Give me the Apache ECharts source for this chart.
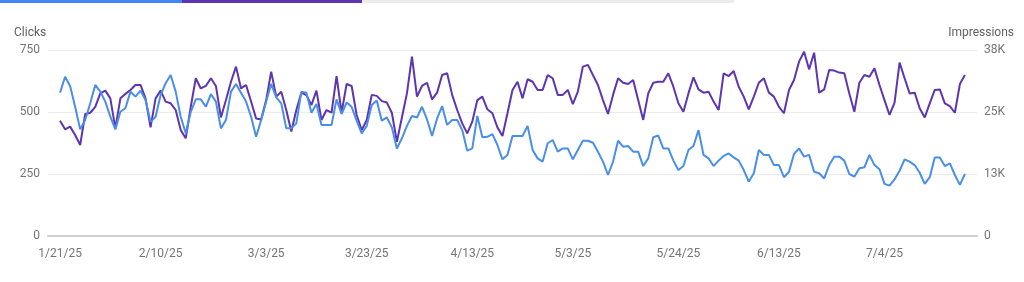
<!DOCTYPE html>
<html>
<head>
<meta charset="utf-8">
<script src="https://cdn.jsdelivr.net/npm/echarts@6/dist/echarts.min.js"></script>
<style>
html,body{margin:0;padding:0;background:#fff;}
#c{width:1024px;height:282px;}
</style>
</head>
<body>
<div id="c"></div>
<script>
const categories = [
'1/21/25','1/22/25','1/23/25','1/24/25','1/25/25','1/26/25','1/27/25','1/28/25','1/29/25','1/30/25','1/31/25',
'2/1/25','2/2/25','2/3/25','2/4/25','2/5/25','2/6/25','2/7/25','2/8/25','2/9/25','2/10/25','2/11/25','2/12/25','2/13/25','2/14/25','2/15/25','2/16/25','2/17/25','2/18/25','2/19/25','2/20/25','2/21/25','2/22/25','2/23/25','2/24/25','2/25/25','2/26/25','2/27/25','2/28/25',
'3/1/25','3/2/25','3/3/25','3/4/25','3/5/25','3/6/25','3/7/25','3/8/25','3/9/25','3/10/25','3/11/25','3/12/25','3/13/25','3/14/25','3/15/25','3/16/25','3/17/25','3/18/25','3/19/25','3/20/25','3/21/25','3/22/25','3/23/25','3/24/25','3/25/25','3/26/25','3/27/25','3/28/25','3/29/25','3/30/25','3/31/25',
'4/1/25','4/2/25','4/3/25','4/4/25','4/5/25','4/6/25','4/7/25','4/8/25','4/9/25','4/10/25','4/11/25','4/12/25','4/13/25','4/14/25','4/15/25','4/16/25','4/17/25','4/18/25','4/19/25','4/20/25','4/21/25','4/22/25','4/23/25','4/24/25','4/25/25','4/26/25','4/27/25','4/28/25','4/29/25','4/30/25',
'5/1/25','5/2/25','5/3/25','5/4/25','5/5/25','5/6/25','5/7/25','5/8/25','5/9/25','5/10/25','5/11/25','5/12/25','5/13/25','5/14/25','5/15/25','5/16/25','5/17/25','5/18/25','5/19/25','5/20/25','5/21/25','5/22/25','5/23/25','5/24/25','5/25/25','5/26/25','5/27/25','5/28/25','5/29/25','5/30/25','5/31/25',
'6/1/25','6/2/25','6/3/25','6/4/25','6/5/25','6/6/25','6/7/25','6/8/25','6/9/25','6/10/25','6/11/25','6/12/25','6/13/25','6/14/25','6/15/25','6/16/25','6/17/25','6/18/25','6/19/25','6/20/25','6/21/25','6/22/25','6/23/25','6/24/25','6/25/25','6/26/25','6/27/25','6/28/25','6/29/25','6/30/25',
'7/1/25','7/2/25','7/3/25','7/4/25','7/5/25','7/6/25','7/7/25','7/8/25','7/9/25','7/10/25','7/11/25','7/12/25','7/13/25','7/14/25','7/15/25','7/16/25','7/17/25','7/18/25','7/19/25','7/20/25'
];

// index positions of the shown date labels
const tickIndices = [0, 20, 41, 61, 82, 102, 123, 143, 164];

const clicks = [
578,642,605,521,430,468,535,609,582,542,481,430,501,515,582,562,586,548,461,481,568,616,649,582,481,414,501,551,551,521,
572,542,434,468,582,613,578,542,481,400,468,542,613,559,535,434,434,454,582,578,497,532,448,448,448,551,492,538,521,465,
414,444,528,546,465,478,438,353,394,444,484,478,521,470,403,474,524,448,468,468,427,344,353,484,398,400,411,367,309,327,
403,403,403,444,347,313,300,374,387,340,353,353,309,347,384,384,376,340,300,246,300,384,360,363,340,340,282,313,398,405,
353,353,304,266,282,347,363,427,327,313,282,304,323,333,317,304,266,219,253,347,327,327,286,286,237,259,331,353,320,327,
259,253,232,286,320,320,304,250,239,273,277,327,286,269,210,203,228,263,309,300,286,255,210,237,317,317,282,293,246,206,250
];

const impressions = [
23250,21500,22050,20350,18350,24600,24850,26050,28750,29300,27750,21700,27750,28650,29450,30450,30450,27750,21900,27750,29300,27100,26750,25400,21350,19700,26050,31800,29750,30250,
31800,30250,23900,27400,31100,34150,29750,30450,27100,23700,23500,27400,33150,28100,29100,25400,21050,25400,28900,28400,26400,29300,23400,25400,24850,32250,24850,30650,30250,24400,
21350,23400,28450,28250,27200,26900,24850,19000,23900,28750,36150,28100,30250,30900,27550,28900,32450,32800,28450,25400,22700,20700,23050,27400,28100,25550,24750,21900,20150,24750,
29450,31100,27750,31600,31100,29450,29450,32450,31800,28450,28450,29450,26600,29100,34150,34500,32450,30450,27400,24600,28450,31800,30900,30650,31450,27400,23400,28750,30900,31100,
31100,32800,30100,26750,25050,28750,32000,29550,28900,29100,27100,25400,32800,32250,33250,30100,28100,25550,28100,30900,31800,28900,28100,26050,24750,29450,31450,35150,37150,33600,
36950,28900,29550,33450,33350,32950,32800,28750,25050,30900,32450,32100,33800,30450,27400,24400,26900,34950,31800,28750,28900,25750,23900,26750,29450,29550,26750,26200,24850,30650,32450
];

const clicksTicks = [0, 250, 500, 750];
const impressionTicks = [0, 12500, 25000, 37500];

const FONT = 'Roboto, "Noto Sans", Arial, sans-serif';
const LABEL_COLOR = '#757575';

const chart = echarts.init(document.getElementById('c'), null, {renderer: 'canvas'});
chart.setOption({
  animation: false,
  backgroundColor: '#ffffff',
  textStyle: {fontFamily: FONT},
  grid: {left: 48, right: 47, top: 50, bottom: 46, containLabel: false},
  graphic: [
    {type: 'rect', left: 0, top: 0, shape: {width: 182, height: 3}, style: {fill: '#4285f4'}},
    {type: 'rect', left: 182, top: 0, shape: {width: 180, height: 3}, style: {fill: '#5e35b1'}},
    {type: 'rect', left: 362, top: 0, shape: {width: 372, height: 3}, style: {fill: '#ececec'}},
    {type: 'text', left: 14, top: 27, style: {text: 'Clicks', fill: '#616161', font: '12px ' + FONT}},
    {type: 'text', right: 10, top: 27, style: {text: 'Impressions', fill: '#616161', font: '12px ' + FONT}}
  ],
  xAxis: {
    type: 'value',
    min: -2.4,
    max: 182.4,
    splitLine: {show: false},
    axisTick: {show: false},
    axisLine: {show: true, lineStyle: {color: '#cfcfcf', width: 2}},
    axisLabel: {
      customValues: tickIndices,
      color: LABEL_COLOR,
      fontSize: 12,
      fontFamily: FONT,
      margin: 12,
      formatter: function (v) { return categories[Math.round(v)] || ''; }
    }
  },
  yAxis: [
    {
      type: 'value', min: 0, max: 750, interval: 250,
      axisLine: {show: false}, axisTick: {show: false},
      splitLine: {show: true, lineStyle: {color: '#ececec', width: 1}},
      axisLabel: {color: LABEL_COLOR, fontSize: 12, fontFamily: FONT, margin: 8,
        customValues: clicksTicks}
    },
    {
      type: 'value', min: 0, max: 37500, interval: 12500,
      axisLine: {show: false}, axisTick: {show: false},
      splitLine: {show: false},
      axisLabel: {color: LABEL_COLOR, fontSize: 12, fontFamily: FONT, margin: 7,
        customValues: impressionTicks,
        formatter: function (v) { return v === 0 ? '0' : Math.round(v / 1000) + 'K'; }}
    }
  ],
  series: [
    {
      name: 'Impressions', type: 'line', yAxisIndex: 1,
      data: impressions.map(function (v, i) { return [i, v]; }),
      showSymbol: false, symbol: 'none',
      lineStyle: {color: '#5e35b1', width: 2},
      itemStyle: {color: '#5e35b1'},
      z: 2
    },
    {
      name: 'Clicks', type: 'line', yAxisIndex: 0,
      data: clicks.map(function (v, i) { return [i, v]; }),
      showSymbol: false, symbol: 'none',
      lineStyle: {color: '#4a8fe7', width: 2},
      itemStyle: {color: '#4a8fe7'},
      z: 3
    }
  ]
});
</script>
</body>
</html>
